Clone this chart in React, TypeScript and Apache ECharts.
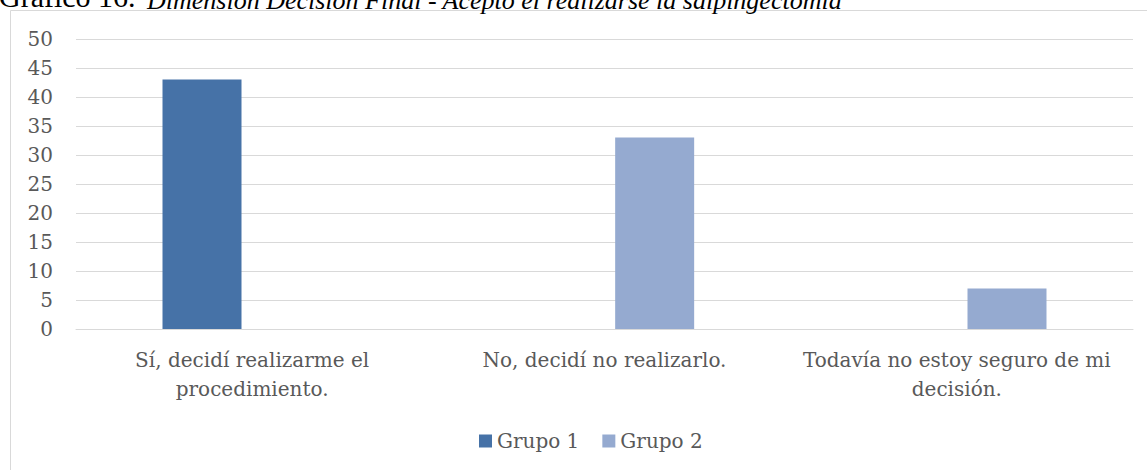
import React, { useEffect, useRef } from "react";
import * as echarts from "echarts";

const categories = [
  "Sí, decidí realizarme el\nprocedimiento.",
  "No, decidí no realizarlo.",
  "Todavía no estoy seguro de mi\ndecisión.",
];
const grupo1 = [43, 0, 0];
const grupo2 = [0, 33, 7];
const seriesNames = ["Grupo 1", "Grupo 2"];
const titleNormal = "Gráfico 16.";
const titleItalic = "Dimensión Decisión Final - Aceptó el realizarse la salpingectomía";

const FONT = "DejaVu Serif";
const TXT = "#595959";

export default function App() {
  const ref = useRef<HTMLDivElement>(null);
  useEffect(() => {
    if (!ref.current) return;
    const chart = echarts.init(ref.current, null, { renderer: "svg" });
    chart.setOption({
      animation: false,
      backgroundColor: "#ffffff",
      grid: { left: 76, right: 14, top: 39, bottom: 141, containLabel: false },
      legend: {
        data: seriesNames,
        left: 479,
        top: 431,
        padding: 0,
        itemWidth: 13,
        itemHeight: 13,
        itemGap: 23,
        icon: "rect",
        textStyle: { fontFamily: FONT, fontSize: 20, color: TXT },
      },
      xAxis: {
        type: "category",
        data: categories,
        axisLine: { lineStyle: { color: "#d9d9d9", width: 1 } },
        axisTick: { show: false },
        axisLabel: {
          interval: 0,
          margin: 16,
          fontFamily: FONT,
          fontSize: 20,
          lineHeight: 29,
          color: TXT,
          align: "center",
        },
      },
      yAxis: {
        type: "value",
        min: 0,
        max: 50,
        interval: 5,
        axisLine: { show: false },
        axisTick: { show: false },
        splitLine: { lineStyle: { color: "#d9d9d9", width: 1 } },
        axisLabel: { margin: 23, fontFamily: FONT, fontSize: 20, color: TXT },
      },
      series: [
        {
          name: seriesNames[0],
          type: "bar",
          data: grupo1,
          barWidth: 79,
          barGap: "27%",
          itemStyle: { color: "#4672a7" },
        },
        {
          name: seriesNames[1],
          type: "bar",
          data: grupo2,
          barWidth: 79,
          itemStyle: { color: "#95aad0" },
        },
      ],
      graphic: [
        {
          type: "rect",
          shape: { x: 10.5, y: 10.5, width: 1300, height: 700 },
          style: { fill: "none", stroke: "#d9d9d9", lineWidth: 1 },
          silent: true,
        },
        {
          type: "text",
          x: -1,
          y: -4,
          style: {
            text: titleNormal,
            fontFamily: "Liberation Serif",
            fontSize: 30,
            fill: "#000000",
            verticalAlign: "middle",
          },
        },
        {
          type: "text",
          x: 147,
          y: 0,
          style: {
            text: titleItalic,
            fontFamily: "Liberation Serif",
            fontStyle: "italic",
            fontSize: 26,
            fill: "#000000",
            verticalAlign: "middle",
          },
        },
      ],
    });
    return () => chart.dispose();
  }, []);
  return (
    <div
      ref={ref}
      style={{ position: "absolute", left: 0, top: 0, width: 1147, height: 470 }}
    />
  );
}
